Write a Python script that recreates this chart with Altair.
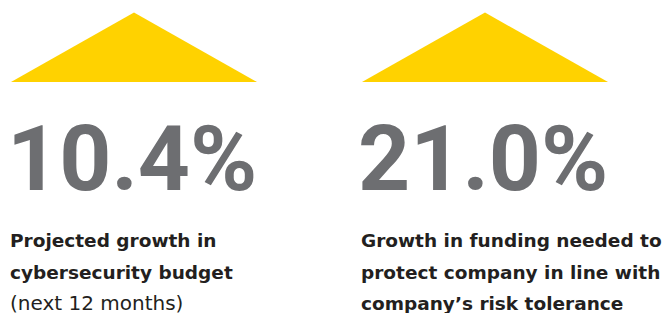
import altair as alt
import pandas as pd

# ---- data ----
values = [10.4, 21.0]
label_lines = [
    ["Projected growth in", "cybersecurity budget", "(next 12 months)"],
    ["Growth in funding needed to", "protect company in line with", "company\u2019s risk tolerance"],
]
line_bold = [[True, True, False], [True, True, True]]

# ---- layout (chart pixels) ----
W, H = 655, 305
PANEL_LEFT = [2, 353]
TRI_HALF = 123
TRI_TOP, TRI_BASE = 4.5, 74
NUM_BASE = 182
LINE_BASE = [239, 271, 302]
YELLOW = "#ffd200"
GREY = "#6d6e71"
DARK = "#231f20"

tri_rows, num_rows, lab_rows = [], [], []
for i, v in enumerate(values):
    px = PANEL_LEFT[i]
    cx = px + 1 + TRI_HALF
    for x, y in [(cx - TRI_HALF, TRI_BASE), (cx, TRI_TOP), (cx + TRI_HALF, TRI_BASE)]:
        tri_rows.append({"panel": i, "x": x, "y": y, "y2": TRI_BASE})
    num_rows.append({"panel": i, "value": v, "x": px - 3, "y": NUM_BASE})
    for j, line in enumerate(label_lines[i]):
        lab_rows.append({"panel": i, "text": line, "bold": line_bold[i][j],
                         "x": px, "y": LINE_BASE[j]})

tri = pd.DataFrame(tri_rows)
nums = pd.DataFrame(num_rows)
labs = pd.DataFrame(lab_rows)

xs = alt.Scale(domain=[0, W], nice=False, zero=False)
ys = alt.Scale(domain=[0, H], nice=False, zero=False, reverse=True)

triangles = alt.Chart(tri).mark_area(color=YELLOW, opacity=1).encode(
    x=alt.X("x:Q", scale=xs, axis=None),
    y=alt.Y("y:Q", scale=ys, axis=None),
    y2="y2:Q",
    detail="panel:N",
)

numbers = alt.Chart(nums).transform_calculate(
    label="format(datum.value, '.1f') + '%'"
).mark_text(
    font="Roboto", fontWeight="bold", fontSize=91, color=GREY,
    align="left", baseline="alphabetic",
).encode(
    x=alt.X("x:Q", scale=xs, axis=None),
    y=alt.Y("y:Q", scale=ys, axis=None),
    text="label:N",
)

bold_lines = alt.Chart(labs).transform_filter("datum.bold").mark_text(
    font="DejaVu Sans", fontWeight="bold", fontSize=18.5, color=DARK,
    align="left", baseline="alphabetic",
).encode(
    x=alt.X("x:Q", scale=xs, axis=None),
    y=alt.Y("y:Q", scale=ys, axis=None),
    text="text:N",
)

plain_lines = alt.Chart(labs).transform_filter("!datum.bold").mark_text(
    font="DejaVu Sans", fontWeight="normal", fontSize=20, color=DARK,
    align="left", baseline="alphabetic",
).encode(
    x=alt.X("x:Q", scale=xs, axis=None),
    y=alt.Y("y:Q", scale=ys, axis=None),
    text="text:N",
)

chart = alt.layer(triangles, numbers, bold_lines, plain_lines).properties(
    width=W, height=H, padding=0, autosize="none", background="white"
).configure_view(stroke=None)

chart.save("out.html", embed_options={"renderer": "svg", "actions": False})
